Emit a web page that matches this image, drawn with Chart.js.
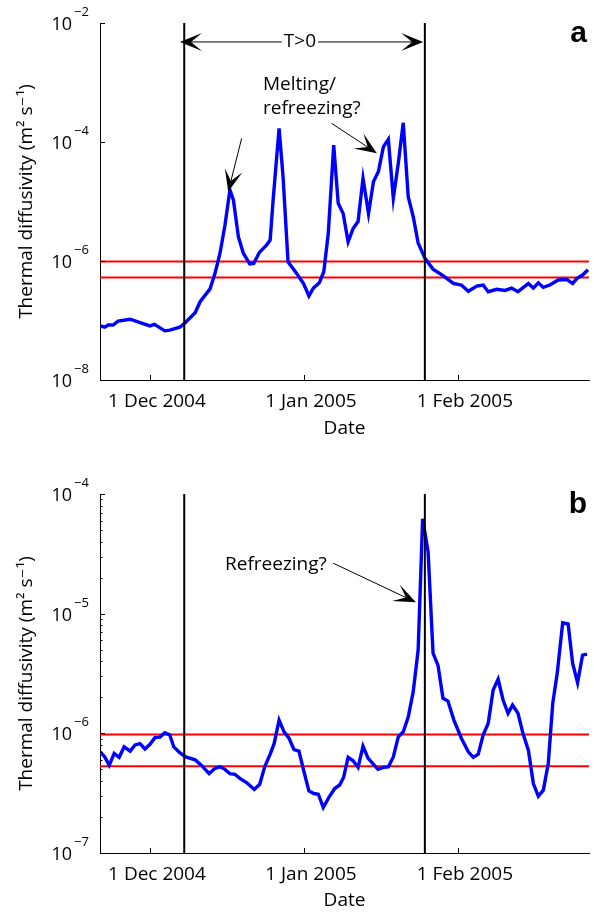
<!DOCTYPE html>
<html>
<head>
<meta charset="utf-8">
<script src="https://cdn.jsdelivr.net/npm/chart.js@4"></script>
<style>
html, body { margin: 0; padding: 0; background: #fff; }
#wrap { position: relative; width: 594px; height: 914px; }
.panel { position: absolute; left: 0; width: 594px; height: 457px; }
</style>
</head>
<body>
<div id="wrap">
  <div class="panel" style="top:0"><canvas id="chartA"></canvas></div>
  <div class="panel" style="top:457px"><canvas id="chartB"></canvas></div>
</div>
<script>
// Days counted from 1 Dec 2004
const X_MIN = -10.06;
const X_MAX = 88.4;
const tickDays = [0, 31, 62];
const tickLabels = ['1 Dec 2004', '1 Jan 2005', '1 Feb 2005'];

// T>0 period (vertical lines)
const meltDays = [6.9, 55.35];
// reference diffusivity band (red lines)
const refLines = [9.8e-7, 5.3e-7];

// panel a
const daysA = [-10.0, -9.1, -8.4, -7.4, -6.4, -4.0, -2.0, 0, 0.9, 3.0, 4.0, 6.0, 7.0, 9.1, 10.1, 12.1, 13.1, 14.1, 15.1, 16.1,
    16.8, 17.8, 18.8, 20.1, 20.9, 22.0, 23.5, 24.2, 24.8, 26.0, 26.8, 27.8, 29.5, 30.9, 32.0, 32.9, 34.1, 35.0, 35.9, 37.0,
    37.9, 38.9, 39.9, 40.9, 41.9, 42.9, 44.0, 45.0, 46.0, 47.0, 48.0, 49.0, 50.0, 51.0, 52.0, 53.0, 54.0, 55.4, 57.0, 59.0,
    61.1, 62.7, 64.1, 65.8, 67.1, 68.1, 69.8, 71.5, 72.8, 74.1, 76.2, 77.2, 78.2, 79.2, 80.5, 82.2, 83.9, 85.1, 86.0, 87.1, 88.2];
const diffA = [8.1e-8, 7.7e-8, 8.4e-8, 8.4e-8, 9.8e-8, 1.05e-7, 9.2e-8, 8.1e-8, 8.6e-8, 6.7e-8, 6.9e-8, 7.7e-8, 9.0e-8, 1.35e-7, 2.07e-7, 3.4e-7, 6.2e-7, 1.35e-6, 4.0e-6, 1.56e-5,
    1.06e-5, 2.56e-6, 1.35e-6, 8.9e-7, 9.1e-7, 1.38e-6, 1.86e-6, 2.25e-6, 1.06e-5, 1.7e-4, 2.6e-5, 9.7e-7, 6.2e-7, 4.2e-7, 2.58e-7, 3.5e-7, 4.3e-7, 6.6e-7, 2.9e-6, 8.9e-5,
    9.3e-6, 6.3e-6, 2.1e-6, 3.5e-6, 4.6e-6, 2.45e-5, 6.3e-6, 2.15e-5, 3.2e-5, 8.3e-5, 1.11e-4, 1.13e-5, 4.4e-5, 2.1e-4, 1.2e-5, 5.6e-6, 2.0e-6, 1.1e-6, 7.3e-7, 5.7e-7,
    4.2e-7, 3.95e-7, 3.1e-7, 3.8e-7, 3.95e-7, 3.05e-7, 3.35e-7, 3.2e-7, 3.5e-7, 3.05e-7, 4.2e-7, 3.5e-7, 4.3e-7, 3.6e-7, 3.95e-7, 4.8e-7, 4.9e-7, 4.2e-7, 5.1e-7, 5.8e-7, 7.1e-7];

// panel b
const daysB = [-10.0, -9.1, -8.2, -7.2, -6.2, -5.2, -4.0, -3.0, -2.0, -1.0, 0, 1.0, 2.0, 3.0, 4.0, 4.8, 6.0, 7.2, 9.1, 10.4,
    11.9, 13.1, 14.1, 15.1, 16.1, 17.1, 18.1, 19.5, 21.0, 22.1, 23.1, 24.2, 25.0, 26.0, 27.0, 28.0, 29.0, 30.0, 31.0, 32.0,
    33.0, 33.9, 34.9, 36.1, 37.2, 38.2, 39.0, 39.9, 40.9, 41.9, 42.9, 43.9, 45.9, 47.0, 48.0, 49.0, 50.0, 51.0, 52.0, 53.0,
    54.0, 54.9, 56.0, 57.0, 58.0, 59.0, 60.0, 61.2, 62.7, 64.1, 65.1, 66.1, 67.1, 68.1, 69.1, 70.1, 71.1, 72.1, 73.0, 74.1,
    75.1, 76.2, 77.2, 78.2, 79.2, 80.2, 81.1, 82.0, 83.1, 84.2, 85.1, 86.1, 87.1, 88.0];
const diffB = [7.0e-7, 6.35e-7, 5.4e-7, 6.8e-7, 6.3e-7, 7.7e-7, 7.1e-7, 8.0e-7, 8.2e-7, 7.4e-7, 8.1e-7, 9.2e-7, 9.3e-7, 1.01e-6, 9.7e-7, 7.7e-7, 6.9e-7, 6.35e-7, 6.0e-7, 5.4e-7,
    4.6e-7, 5.1e-7, 5.25e-7, 5.0e-7, 4.6e-7, 4.55e-7, 4.2e-7, 3.86e-7, 3.4e-7, 3.75e-7, 5.25e-7, 6.7e-7, 8.2e-7, 1.29e-6, 1.03e-6, 9.1e-7, 7.3e-7, 7.1e-7, 4.8e-7, 3.3e-7,
    3.14e-7, 3.1e-7, 2.4e-7, 2.95e-7, 3.46e-7, 3.7e-7, 4.3e-7, 6.3e-7, 5.9e-7, 5.2e-7, 7.8e-7, 6.2e-7, 5.0e-7, 5.2e-7, 5.25e-7, 6.35e-7, 9.35e-7, 1.03e-6, 1.37e-6, 2.22e-6,
    4.97e-6, 6.2e-5, 3.3e-5, 4.67e-6, 3.7e-6, 1.96e-6, 1.86e-6, 1.29e-6, 9.1e-7, 7.0e-7, 6.3e-7, 6.7e-7, 9.7e-7, 1.21e-6, 2.3e-6, 2.83e-6, 1.9e-6, 1.47e-6, 1.72e-6, 1.47e-6,
    1.0e-6, 7.2e-7, 3.8e-7, 2.98e-7, 3.35e-7, 5.6e-7, 1.78e-6, 3.17e-6, 8.4e-6, 8.2e-6, 3.85e-6, 2.65e-6, 4.5e-6, 4.6e-6];

const yDecadesA = [1e-8, 1e-6, 1e-4, 1e-2];
const yDecadesB = [1e-7, 1e-6, 1e-5, 1e-4];

const FONT = '"Open Sans", "DejaVu Sans", sans-serif';

// arrow with a filled MATLAB-like head
function drawArrow(ctx, x0, y0, x1, y1) {
    const L = 22, W = 9, N = 0.5;
    const len = Math.hypot(x1 - x0, y1 - y0);
    const ux = (x1 - x0) / len, uy = (y1 - y0) / len;
    const nx = -uy, ny = ux;
    ctx.beginPath();
    ctx.moveTo(x0, y0);
    ctx.lineTo(x1 - ux * L * N, y1 - uy * L * N);
    ctx.stroke();
    ctx.beginPath();
    ctx.moveTo(x1, y1);
    ctx.lineTo(x1 - ux * L + nx * W, y1 - uy * L + ny * W);
    ctx.lineTo(x1 - ux * L * N, y1 - uy * L * N);
    ctx.lineTo(x1 - ux * L - nx * W, y1 - uy * L - ny * W);
    ctx.closePath();
    ctx.fill();
}

// inward ticks, 10^n labels, annotations
const matlabAxes = {
    id: 'matlabAxes',
    afterDraw(chart, args, opts) {
        const { ctx, chartArea: ca, scales: { x, y } } = chart;
        ctx.save();
        ctx.strokeStyle = '#000';
        ctx.fillStyle = '#000';
        ctx.lineWidth = 1;

        x.ticks.forEach(t => {
            const px = Math.round(x.getPixelForValue(t.value)) + 0.5;
            ctx.beginPath();
            ctx.moveTo(px, ca.bottom);
            ctx.lineTo(px, ca.bottom - 5);
            ctx.stroke();
        });
        y.ticks.forEach(t => {
            const py = Math.round(y.getPixelForValue(t.value)) + 0.5;
            ctx.beginPath();
            ctx.moveTo(ca.left, py);
            ctx.lineTo(ca.left + (t.major ? 5 : 2.5), py);
            ctx.stroke();
            if (t.major) {
                const ex = Math.round(Math.log10(t.value));
                ctx.font = '18px ' + FONT;
                ctx.textAlign = 'right';
                ctx.textBaseline = 'middle';
                ctx.fillText('10', ca.left - 28, py + 1);
                ctx.font = '13px ' + FONT;
                ctx.textAlign = 'left';
                ctx.fillText((ex < 0 ? '\u2212' : '') + Math.abs(ex), ca.left - 26, py - 11);
            }
        });

        // annotations
        ctx.font = '19px ' + FONT;
        ctx.textBaseline = 'middle';
        (opts.texts || []).forEach(n => {
            ctx.textAlign = n.align;
            ctx.fillText(n.text, x.getPixelForValue(n.at[0]), y.getPixelForValue(n.at[1]));
        });
        (opts.arrows || []).forEach(a => {
            drawArrow(ctx, x.getPixelForValue(a.from[0]), y.getPixelForValue(a.from[1]),
                x.getPixelForValue(a.to[0]), y.getPixelForValue(a.to[1]));
        });
        if (opts.span) {
            const s = opts.span;
            const py = y.getPixelForValue(s.y);
            const cx = x.getPixelForValue(s.mid);
            const half = ctx.measureText(s.text).width / 2 + 2;
            ctx.textAlign = 'center';
            ctx.fillText(s.text, cx, py);
            drawArrow(ctx, cx - half, py, x.getPixelForValue(s.from), py);
            drawArrow(ctx, cx + half, py, x.getPixelForValue(s.to), py);
        }

        // panel letter
        ctx.font = 'bold 30px "Liberation Sans", Arial, sans-serif';
        ctx.textAlign = 'right';
        ctx.textBaseline = 'alphabetic';
        ctx.fillText(opts.letter, ca.right - 2, ca.top + 19);
        ctx.restore();
    }
};

function makeChart(id, days, vals, yMin, yMax, decades, minor, padTop, xHeight, titlePad, notes) {
    const yTicks = [];
    decades.forEach(v => {
        yTicks.push({ value: v, major: true });
        if (minor && v < yMax) {
            for (let k = 2; k <= 9; k++) yTicks.push({ value: k * v, major: false });
        }
    });
    return new Chart(document.getElementById(id), {
        type: 'line',
        data: {
            datasets: [
                ...meltDays.map(d => ({
                    data: [{ x: d, y: yMin }, { x: d, y: yMax }],
                    borderColor: '#000', borderWidth: 2, order: 0
                })),
                {
                    data: days.map((d, i) => ({ x: d, y: vals[i] })),
                    borderColor: '#0000ff', borderWidth: 3.4, order: 1
                },
                ...refLines.map(v => ({
                    data: [{ x: X_MIN, y: v }, { x: X_MAX, y: v }],
                    borderColor: '#ff0000', borderWidth: 2, order: 2
                }))
            ]
        },
        options: {
            responsive: true,
            maintainAspectRatio: false,
            animation: false,
            events: [],
            datasets: { line: { pointRadius: 0, tension: 0, fill: false, borderCapStyle: 'butt' } },
            layout: { padding: { top: padTop, right: 5, left: 0, bottom: 0 } },
            plugins: {
                legend: { display: false },
                tooltip: { enabled: false },
                matlabAxes: notes
            },
            scales: {
                x: {
                    type: 'linear',
                    min: X_MIN,
                    max: X_MAX,
                    grid: { display: false, drawTicks: false },
                    border: { display: true, color: '#000', width: 1 },
                    afterBuildTicks: s => { s.ticks = tickDays.map(v => ({ value: v })); },
                    ticks: {
                        autoSkip: false, maxRotation: 0, padding: 10, labelOffset: 7,
                        color: '#000', font: { family: FONT, size: 19 },
                        callback: (v, i) => tickLabels[i]
                    },
                    title: {
                        display: true, text: 'Date', color: '#000',
                        font: { family: FONT, size: 19 }, padding: { top: 0, bottom: titlePad }
                    },
                    afterFit: s => { s.height = xHeight; }
                },
                y: {
                    type: 'logarithmic',
                    min: yMin,
                    max: yMax,
                    grid: { display: false, drawTicks: false },
                    border: { display: true, color: '#000', width: 1 },
                    afterBuildTicks: s => { s.ticks = yTicks.map(t => ({ value: t.value, major: t.major })); },
                    ticks: { display: false },
                    title: {
                        display: true, text: 'Thermal diffusivity (m\u00b2 s\u207b\u00b9)', color: '#000',
                        font: { family: FONT, size: 19 }, padding: { top: 15.5, bottom: 0 }
                    },
                    afterFit: s => { s.width = 100; }
                }
            }
        },
        plugins: [matlabAxes]
    });
}

makeChart('chartA', daysA, diffA, 1e-8, 1e-2, yDecadesA, false, 23, 77, 17.5, {
    letter: 'a',
    texts: [
        { text: 'Melting/', at: [22.75, 9.25e-4], align: 'left' },
        { text: 'refreezing?', at: [22.75, 3.66e-4], align: 'left' }
    ],
    arrows: [
        { from: [18.46, 1.15e-4], to: [15.76, 1.46e-5] },
        { from: [36.57, 2.06e-4], to: [45.69, 6.5e-5] }
    ],
    span: { from: 6.04, to: 55.0, mid: 30.2, y: 4.8e-3, text: 'T>0' }
});

makeChart('chartB', daysB, diffB, 1e-7, 1e-4, yDecadesB, true, 37, 61, 2.5, {
    letter: 'b',
    texts: [
        { text: 'Refreezing?', at: [35.6, 2.56e-5], align: 'right' }
    ],
    arrows: [
        { from: [36.9, 2.64e-5], to: [53.54, 1.245e-5] }
    ]
});
</script>
</body>
</html>
